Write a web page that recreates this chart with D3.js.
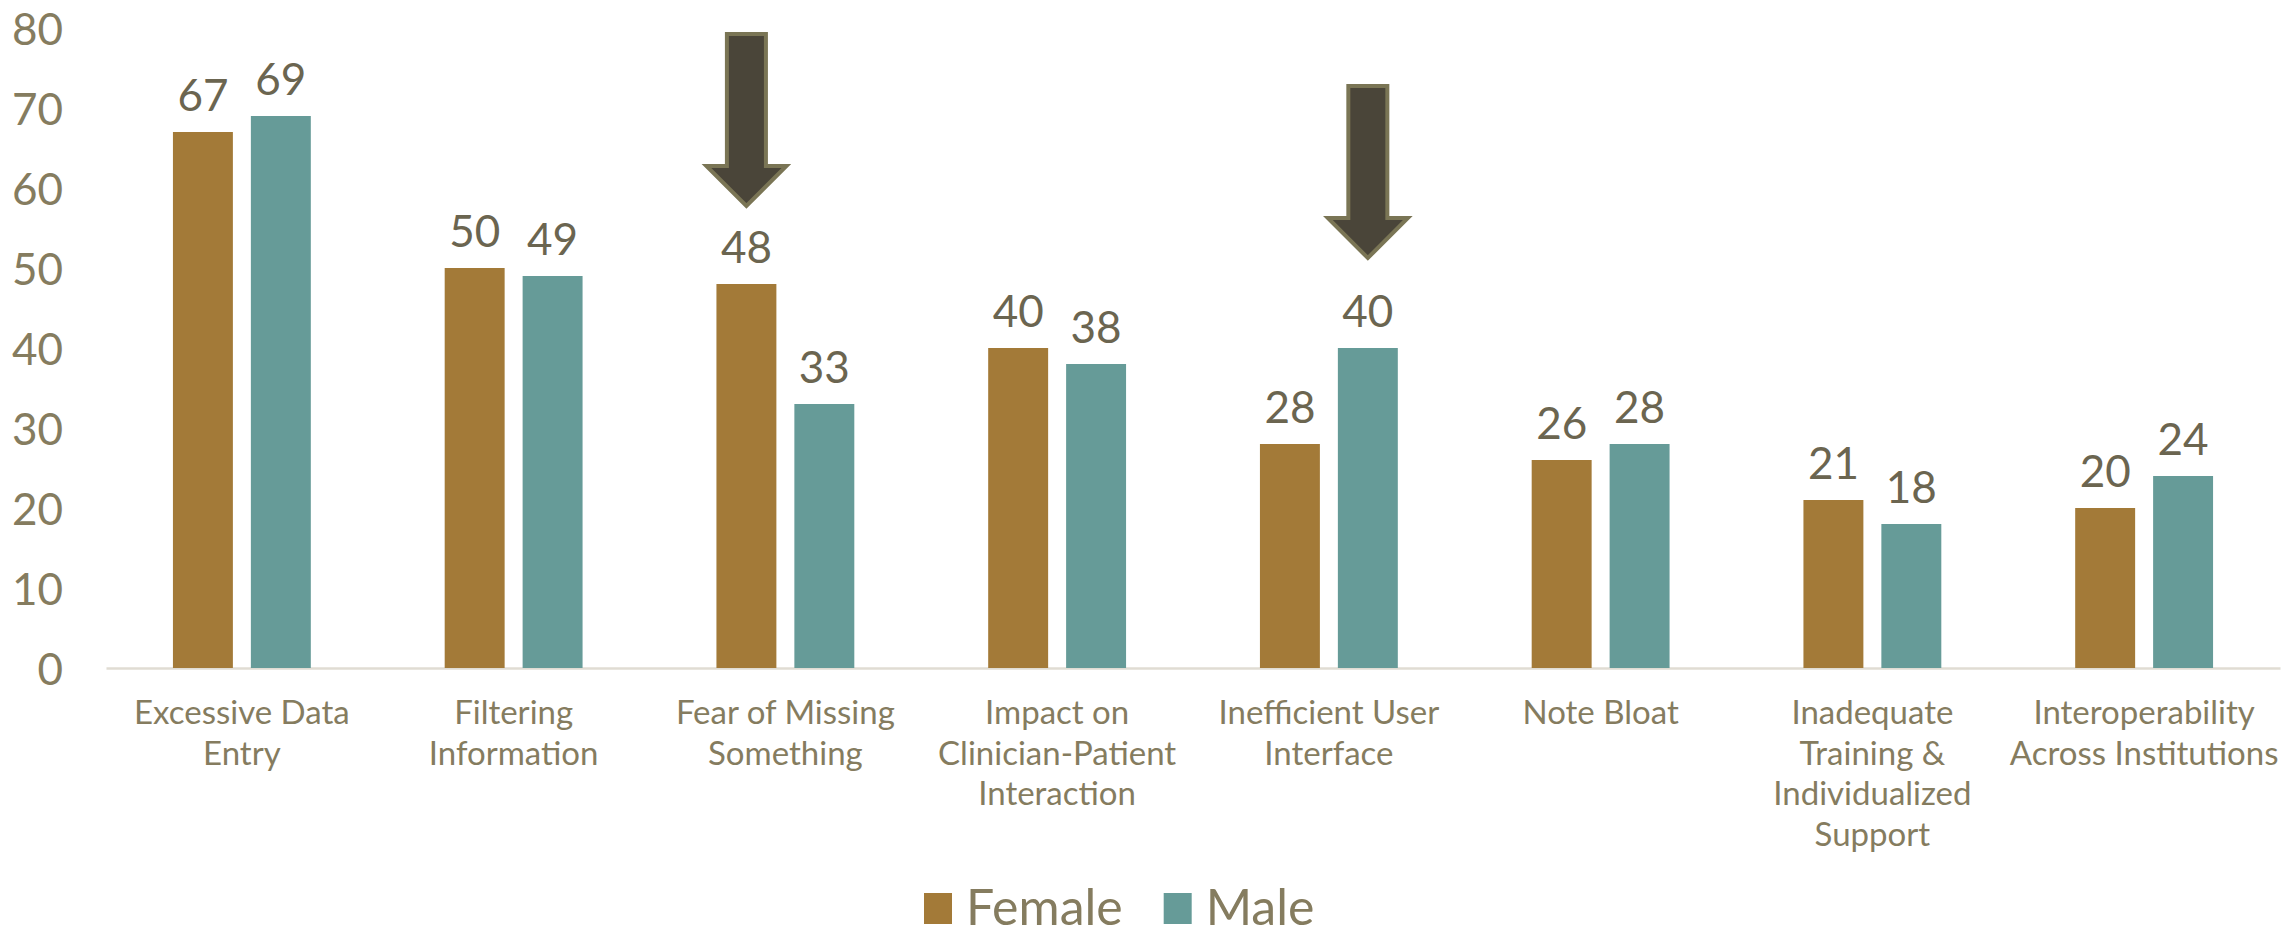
<!DOCTYPE html>
<html>
<head>
<meta charset="utf-8">
<script src="https://cdn.jsdelivr.net/npm/d3@7/dist/d3.min.js"></script>
<style>
  html, body { margin: 0; padding: 0; background: #ffffff; }
  svg { display: block; }
  text { font-family: Lato, "Open Sans", "DejaVu Sans", sans-serif; }
</style>
</head>
<body>
<svg id="chart" width="2295" height="938"></svg>
<script>
// Category tick labels, one entry per wrapped line
const categoryLabels = [
  ["Excessive Data", "Entry"],
  ["Filtering", "Information"],
  ["Fear of Missing", "Something"],
  ["Impact on", "Clinician-Patient", "Interaction"],
  ["Inefficient User", "Interface"],
  ["Note Bloat"],
  ["Inadequate", "Training &", "Individualized", "Support"],
  ["Interoperability", "Across Institutions"]
];
const categories = categoryLabels.map(lines => lines.join(" "));

const seriesNames = ["Female", "Male"];
const femaleValues = [67, 50, 48, 40, 28, 26, 21, 20];
const maleValues   = [69, 49, 33, 38, 40, 28, 18, 24];

const yTicks = [0, 10, 20, 30, 40, 50, 60, 70, 80];

// Callout arrows: which bar they point at, and the arrow tip height in value units
const callouts = [
  { category: "Fear of Missing Something", series: "Female", tip: 57.75 },
  { category: "Inefficient User Interface", series: "Male", tip: 51.25 }
];

const seriesColors = { Female: "#A37A38", Male: "#669B98" };
const axisTextColor = "#857C5F";
const valueTextColor = "#6B6550";

const svg = d3.select("#chart");

const plotLeft = 106, plotRight = 2280, plotTop = 28, plotBottom = 668;

const x0 = d3.scaleBand()
  .domain(categories)
  .range([plotLeft, plotRight])
  .paddingInner(134 / 272)
  .paddingOuter(134 / 272 / 2);

const x1 = d3.scaleBand()
  .domain(seriesNames)
  .range([0, x0.bandwidth()])
  .paddingInner(18 / 78)
  .paddingOuter(0);

const y = d3.scaleLinear().domain([0, 80]).range([plotBottom, plotTop]);

const rows = categories.map((c, i) => ({
  category: c,
  values: [
    { series: "Female", value: femaleValues[i] },
    { series: "Male", value: maleValues[i] }
  ]
}));

// Y axis: labels only
const yAxis = svg.append("g")
  .attr("transform", `translate(70,0)`)
  .call(d3.axisLeft(y).tickValues(yTicks).tickSize(0).tickPadding(7).tickFormat(d3.format("d")));
yAxis.select(".domain").remove();
yAxis.selectAll("text")
  .attr("fill", axisTextColor)
  .style("font-size", "44px")
  .style("font-family", "Lato, sans-serif")
  .attr("dy", "0.38em");

// X axis baseline
const xAxis = svg.append("g")
  .attr("transform", `translate(0,${plotBottom})`)
  .call(d3.axisBottom(x0).tickSize(0).tickSizeOuter(0).tickFormat(""));
xAxis.select(".domain").attr("stroke", "#E0DCD3").attr("stroke-width", 2.5);

// Wrapped category labels
xAxis.selectAll(".tick").each(function (d, i) {
  const t = d3.select(this).append("text")
    .attr("text-anchor", "middle")
    .attr("fill", axisTextColor)
    .style("font-size", "33px");
  categoryLabels[i].forEach((line, k) => {
    t.append("tspan").attr("x", 0).attr("y", 56 + k * 40.5).text(line);
  });
});

// Bars
const groups = svg.append("g").selectAll("g")
  .data(rows)
  .join("g")
  .attr("transform", d => `translate(${x0(d.category)},0)`);

groups.selectAll("rect")
  .data(d => d.values)
  .join("rect")
  .attr("x", d => x1(d.series))
  .attr("y", d => y(d.value))
  .attr("width", x1.bandwidth())
  .attr("height", d => y(0) - y(d.value))
  .attr("fill", d => seriesColors[d.series]);

// Value labels
groups.selectAll("text.value")
  .data(d => d.values)
  .join("text")
  .attr("class", "value")
  .attr("x", d => x1(d.series) + x1.bandwidth() / 2)
  .attr("y", d => y(d.value) - 21)
  .attr("text-anchor", "middle")
  .attr("fill", valueTextColor)
  .style("font-size", "44px")
  .text(d => d.value);

// Callout arrows (tip at origin)
const shaftHalf = 19.5, headHalf = 40, headLen = 40, arrowLen = 172;
const arrowPath = d3.line()([
  [-shaftHalf, -arrowLen], [shaftHalf, -arrowLen], [shaftHalf, -headLen],
  [headHalf, -headLen], [0, 0], [-headHalf, -headLen], [-shaftHalf, -headLen]
]) + "Z";

svg.append("g").selectAll("path")
  .data(callouts)
  .join("path")
  .attr("transform", d => `translate(${x0(d.category) + x1(d.series) + x1.bandwidth() / 2},${y(d.tip)})`)
  .attr("d", arrowPath)
  .attr("fill", "#4A4539")
  .attr("stroke", "#7A7555")
  .attr("stroke-width", 4)
  .attr("stroke-linejoin", "miter");

// Legend
const legend = svg.append("g").attr("transform", "translate(924,0)");
let lx = 0;
seriesNames.forEach(name => {
  const item = legend.append("g").attr("transform", `translate(${lx},0)`);
  item.append("rect")
    .attr("x", 0).attr("y", 893)
    .attr("width", 28).attr("height", 31)
    .attr("fill", seriesColors[name]);
  const txt = item.append("text")
    .attr("x", 42).attr("y", 925)
    .attr("fill", axisTextColor)
    .style("font-size", "50px")
    .text(name);
  lx += 42 + txt.node().getComputedTextLength() + 41;
});
</script>
</body>
</html>
